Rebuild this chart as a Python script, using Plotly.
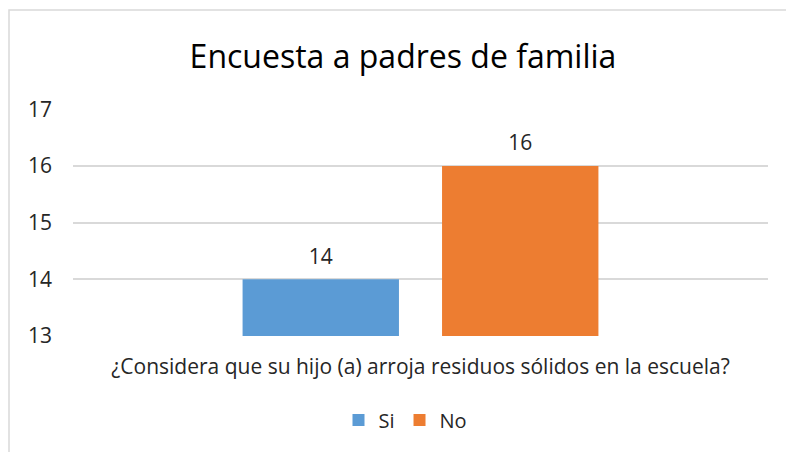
import plotly.graph_objects as go

title = "Encuesta a padres de familia"
category = ["¿Considera que su hijo (a) arroja residuos sólidos en la escuela?"]
series_names = ["Si", "No"]
series_values = [[14], [16]]
colors = ["#5B9BD5", "#ED7D31"]
y_ticks = [13, 14, 15, 16, 17]

FONT = "Open Sans"
TXT = "#262626"

fig = go.Figure()
for name, vals, col in zip(series_names, series_values, colors):
    fig.add_trace(go.Bar(
        x=category, y=[v - 13 for v in vals], base=13, name=name,
        marker=dict(color=col, line=dict(width=0)),
        cliponaxis=False,
    ))
# data labels: invisible marker lifts the label above the bar top
for name, vals in zip(series_names, series_values):
    fig.add_trace(go.Scatter(
        x=category, y=vals, mode="markers+text", showlegend=False, hoverinfo="skip",
        text=[str(v) for v in vals], textposition="top center",
        textfont=dict(family=FONT, size=21, color=TXT),
        marker=dict(size=15, opacity=0), cliponaxis=False,
    ))

L, R, T, B = 73, 18, 109, 116
W, H = 786, 452
pw, ph = W - L - R, H - T - B

fig.update_layout(
    width=W, height=H,
    margin=dict(l=L, r=R, t=T, b=B),
    paper_bgcolor="white", plot_bgcolor="white",
    barmode="group", bargap=0.426, bargroupgap=0.216,
    scattermode="group", scattergap=0.426,
    title=dict(text=title, xref="container", x=403 / W, xanchor="center", y=1 - 57 / H, yanchor="middle",
               font=dict(family=FONT, size=32, color="#000000")),
    font=dict(family=FONT, color=TXT),
    showlegend=True,
    legend=dict(orientation="h", x=(405.5 - L) / pw, xanchor="center", y=-(420 - 336) / ph, yanchor="middle",
                font=dict(family=FONT, size=20, color=TXT), itemwidth=30, traceorder="normal"),
    xaxis=dict(showgrid=False, showline=False, ticks="", ticklabelstandoff=16,
               tickfont=dict(family=FONT, size=21, color=TXT)),
    yaxis=dict(range=[13, 17.004], tickvals=y_ticks, showgrid=True, gridcolor="#D9D9D9", gridwidth=1.5,
               zeroline=False, showline=False, ticks="", ticklabelstandoff=20,
               tickfont=dict(family=FONT, size=21, color=TXT)),
    shapes=[dict(type="rect", xref="paper", yref="paper",
                 x0=(9 - L) / pw, x1=(800 - L) / pw,
                 y0=-(470 - (H - B)) / ph, y1=1 + (T - 10) / ph,
                 line=dict(color="#D9D9D9", width=1.5), fillcolor="rgba(0,0,0,0)", layer="below")],
)

fig.write_html("out.html", config={"displayModeBar": False},
               post_script="document.body.style.margin='0';")
